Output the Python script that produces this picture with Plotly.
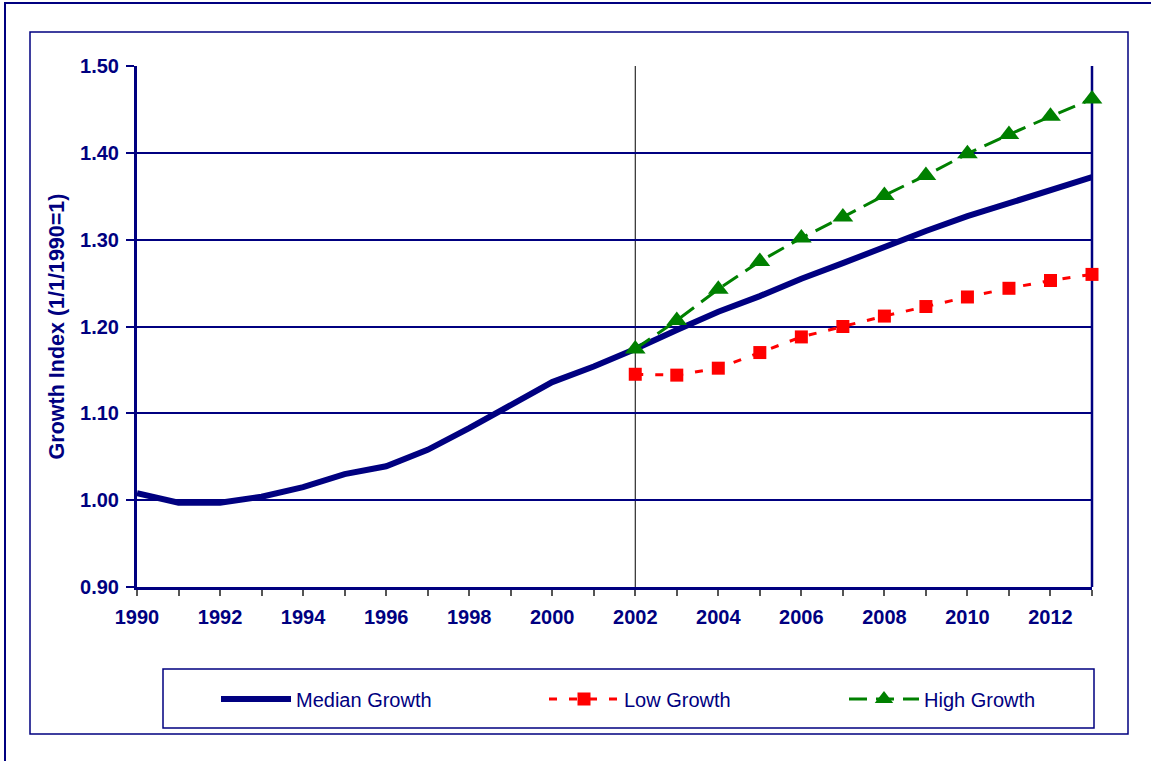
import plotly.graph_objects as go

# Growth index series (1/1/1990 = 1)
years = list(range(1990, 2014))
median_growth = [1.008, 0.997, 0.997, 1.004, 1.015, 1.030, 1.039, 1.058, 1.083, 1.109,
                 1.136, 1.154, 1.174, 1.196, 1.217, 1.235, 1.255, 1.273, 1.292, 1.310,
                 1.327, 1.342, 1.358, 1.372]

scenario_years = list(range(2002, 2014))
low_growth = [1.145, 1.144, 1.152, 1.170, 1.188, 1.200, 1.212, 1.223, 1.234, 1.244, 1.253, 1.260]
high_growth = [1.174, 1.207, 1.243, 1.275, 1.302, 1.326, 1.351, 1.374, 1.399, 1.421, 1.442, 1.462]

x_tick_labels = [str(y) for y in range(1990, 2014, 2)]
y_ticks = [0.9, 1.0, 1.1, 1.2, 1.3, 1.4, 1.5]

NAVY = "#000080"
RED = "#FF0000"
GREEN = "#008000"
FONT = "Liberation Sans, Arial, sans-serif"

W, H = 1151, 761
L, R, T, B = 137, 1092, 66, 587  # plot area in pixels


def px(xp):
    return (xp - L) / (R - L)


def py(yp):
    return (B - yp) / (B - T)


fig = go.Figure()

fig.add_trace(go.Scatter(
    x=years, y=median_growth, name="Median Growth", mode="lines",
    line=dict(color=NAVY, width=6), legend="legend", cliponaxis=False,
))
fig.add_trace(go.Scatter(
    x=scenario_years, y=low_growth, name="Low Growth", mode="lines+markers",
    line=dict(color=RED, width=3, dash="8px,12px"),
    marker=dict(symbol="square", size=13, color=RED, line=dict(width=0)),
    legend="legend2", cliponaxis=False,
))
fig.add_trace(go.Scatter(
    x=scenario_years, y=high_growth, name="High Growth", mode="lines+markers",
    line=dict(color=GREEN, width=3, dash="18px,9px"),
    marker=dict(symbol="triangle-up", size=18, color=GREEN, line=dict(width=0)),
    legend="legend3", cliponaxis=False,
))

shapes = [
    # outer frame
    dict(type="rect", xref="paper", yref="paper",
         x0=px(5), x1=px(1170), y0=py(780), y1=py(3),
         line=dict(color=NAVY, width=2), layer="below"),
    # chart frame
    dict(type="rect", xref="paper", yref="paper",
         x0=px(30), x1=px(1128), y0=py(734), y1=py(32),
         line=dict(color=NAVY, width=1.5), layer="below"),
    # legend box
    dict(type="rect", xref="paper", yref="paper",
         x0=px(163), x1=px(1094), y0=py(728), y1=py(669),
         line=dict(color=NAVY, width=1.5), layer="below"),
    # forecast start marker
    dict(type="line", xref="x", yref="paper", x0=2002, x1=2002, y0=0, y1=1,
         line=dict(color="black", width=1), layer="below"),
    # right edge of plot area
    dict(type="line", xref="paper", yref="paper", x0=1, x1=1, y0=0, y1=1,
         line=dict(color=NAVY, width=2.5), layer="below"),
]


def legend_at(text_x):
    return dict(
        orientation="h", x=px(text_x - 80), y=py(699), xanchor="left", yanchor="middle",
        bgcolor="rgba(0,0,0,0)", borderwidth=0,
        font=dict(family=FONT, size=20, color=NAVY),
        itemwidth=70, itemclick=False, itemdoubleclick=False,
    )


fig.update_layout(
    width=W, height=H,
    margin=dict(l=L, r=W - R, t=T, b=H - B),
    paper_bgcolor="white", plot_bgcolor="white",
    font=dict(family=FONT, color=NAVY),
    shapes=shapes,
    showlegend=True,
    legend=legend_at(296),
    legend2=legend_at(624),
    legend3=legend_at(924),
    xaxis=dict(
        range=[1990, 2013], tickmode="array",
        tickvals=list(range(1990, 2014, 2)), ticktext=x_tick_labels,
        showgrid=False, zeroline=False,
        showline=True, linecolor=NAVY, linewidth=3,
        ticks="outside", ticklen=6, tickcolor="#555555", tickwidth=1.5,
        tickfont=dict(family=FONT, size=20, color=NAVY, weight="bold"),
        ticklabelstandoff=4,
        minor=dict(dtick=1, ticks="outside", ticklen=6, tickcolor="#555555", tickwidth=1.5),
    ),
    yaxis=dict(
        range=[0.9, 1.5], tickmode="array", tickvals=y_ticks,
        ticktext=[f"{v:.2f}" for v in y_ticks],
        showgrid=True, gridcolor=NAVY, gridwidth=1.5, zeroline=False,
        showline=True, linecolor=NAVY, linewidth=3,
        ticks="outside", ticklen=8, tickcolor=NAVY, tickwidth=2,
        tickfont=dict(family=FONT, size=20, color=NAVY, weight="bold"),
        ticklabelstandoff=3,
        title=dict(text="Growth Index (1/1/1990=1)", standoff=10,
                   font=dict(family=FONT, size=21.5, color=NAVY, weight="bold")),
    ),
)

fig.write_html("out.html")
